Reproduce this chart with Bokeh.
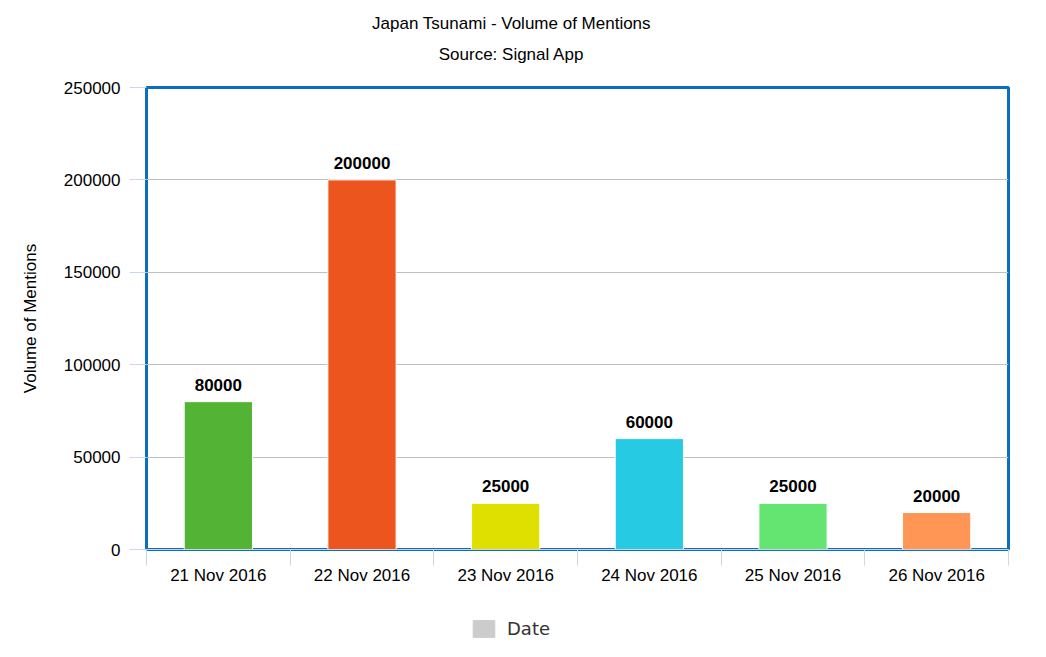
from bokeh.plotting import figure
from bokeh.layouts import column
from bokeh.models import (ColumnDataSource, FixedTicker, Range1d, Label, Legend, LegendItem,
                          BasicTickFormatter)
from bokeh.core.properties import value
from bokeh.embed import file_html
from bokeh.resources import INLINE

title_text = "Japan Tsunami - Volume of Mentions"
subtitle_text = "Source: Signal App"
dates = ["21 Nov 2016", "22 Nov 2016", "23 Nov 2016", "24 Nov 2016", "25 Nov 2016", "26 Nov 2016"]
mentions = [80000, 200000, 25000, 60000, 25000, 20000]
colors = ["#52b335", "#ec561e", "#dfe000", "#26cbe3", "#64e470", "#ff9656"]
y_ticks = [0, 50000, 100000, 150000, 200000, 250000]
series_name = "Date"
series_color = "#cccccc"

FONT = "Liberation Sans"
FS = "17px"
W = 1030

# ---- title strip ----
top = figure(width=W, height=70, output_backend="svg", toolbar_location=None,
             x_range=Range1d(0, 1), y_range=Range1d(0, 1),
             min_border=0, outline_line_color=None)
top.axis.visible = False
top.grid.visible = False
for txt, yy in ((title_text, 47), (subtitle_text, 16)):
    top.add_layout(Label(x=365, y=yy, x_units="screen", y_units="screen", text=txt,
                         text_align="center", text_baseline="middle",
                         text_font=FONT, text_font_size=FS, text_color="#000000"))

# ---- main chart ----
xs = [i + 0.5 for i in range(len(dates))]
src = ColumnDataSource(dict(x=xs, top=mentions, color=colors,
                            label=[str(v) for v in mentions]))

p = figure(width=W, height=530, output_backend="svg", toolbar_location=None,
           x_range=Range1d(0, len(dates)), y_range=Range1d(0, 250000),
           min_border_left=146, min_border_right=22, min_border_top=17,
           min_border_bottom=51)

p.outline_line_color = "#0a6fc2"
p.outline_line_width = 3
p.outline_line_alpha = 1.0

p.vbar(x="x", top="top", width=0.475, bottom=0, fill_color="color",
       line_color="white", line_width=1, source=src)
p.text(x="x", y="top", text="label", source=src, text_align="center",
       text_baseline="bottom", y_offset=-11, text_font=value(FONT),
       text_font_size=FS, text_font_style="bold", text_color="#000000")

p.xgrid.grid_line_color = None
p.ygrid.grid_line_color = "#c0c0c0"
p.ygrid.grid_line_width = 1
p.ygrid.ticker = FixedTicker(ticks=y_ticks)

p.yaxis.ticker = FixedTicker(ticks=y_ticks)
p.yaxis.formatter = BasicTickFormatter(use_scientific=False)
p.yaxis.axis_line_color = None
p.yaxis.major_tick_line_color = "#ccd6eb"
p.yaxis.major_tick_out = 17
p.yaxis.major_tick_in = 0
p.yaxis.minor_tick_line_color = None
p.yaxis.major_label_standoff = 9
p.yaxis.major_label_text_font = FONT
p.yaxis.major_label_text_font_size = FS
p.yaxis.major_label_text_color = "#000000"
p.yaxis.axis_label = "Volume of Mentions"
p.yaxis.axis_label_text_font = FONT
p.yaxis.axis_label_text_font_size = FS
p.yaxis.axis_label_text_font_style = "normal"
p.yaxis.axis_label_text_color = "#000000"
p.yaxis.axis_label_standoff = 21

p.xaxis.ticker = FixedTicker(ticks=xs, minor_ticks=list(range(len(dates) + 1)))
p.xaxis.major_label_overrides = {x: d for x, d in zip(xs, dates)}
p.xaxis.axis_line_color = "#ccd6eb"
p.xaxis.major_tick_line_color = None
p.xaxis.major_tick_out = 0
p.xaxis.major_tick_in = 0
p.xaxis.minor_tick_line_color = "#ccd6eb"
p.xaxis.minor_tick_out = 16
p.xaxis.minor_tick_in = 0
p.xaxis.major_label_standoff = 0
p.xaxis.major_label_text_font = FONT
p.xaxis.major_label_text_font_size = FS
p.xaxis.major_label_text_color = "#000000"

# ---- legend strip ----
lg = figure(width=W, height=41, output_backend="svg", toolbar_location=None,
            x_range=Range1d(0, 1), y_range=Range1d(0, 1),
            min_border=0, outline_line_color=None)
lg.axis.visible = False
lg.grid.visible = False
# legend swatch renderer: one off-screen quad so the legend has a glyph to draw
dummy = lg.quad(left=[5], right=[6], top=[6], bottom=[5], fill_color=series_color,
                line_color=series_color)
legend = Legend(items=[LegendItem(label=series_name, renderers=[dummy])],
                location=(324, 2), orientation="horizontal",
                label_text_font="DejaVu Sans", label_text_font_size="18px",
                label_text_color="#333333", glyph_width=27, glyph_height=21,
                label_height=21, border_line_color=None, background_fill_alpha=0,
                margin=0, padding=0, label_standoff=10)
lg.add_layout(legend, "center")

open("out.html", "w").write(file_html(column(top, p, lg, spacing=0), INLINE))
